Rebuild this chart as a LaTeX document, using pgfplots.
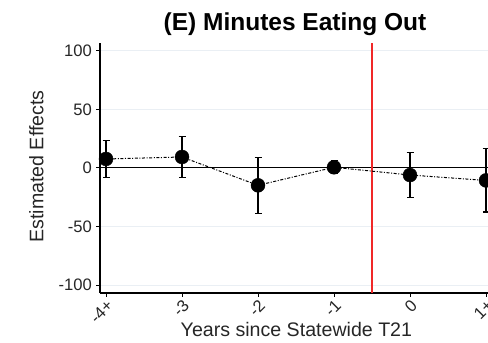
\documentclass[border=0pt]{standalone}
\usepackage{fontspec}
\setmainfont{Liberation Sans}
\usepackage{pgfplots}
\pgfplotsset{compat=1.18}

\definecolor{gridgray}{RGB}{234,239,244}
\definecolor{vline}{RGB}{240,40,40}

\begin{document}
\begin{tikzpicture}[x=1pt,y=1pt]
\begin{axis}[
  at={(100pt,50pt)}, anchor=south west,
  scale only axis,
  width=393.6pt, height=250pt,
  xmin=-0.079, xmax=5.1,
  ymin=-106.8, ymax=106.8,
  axis lines*=left,
  axis line style={black, line width=1.1pt},
  clip=false,
  xtick={0,1,2,3,4,5},
  xticklabels={-4+,-3,-2,-1,0,1+},
  ytick={-100,-50,0,50,100},
  tick align=outside,
  major tick length=4pt,
  tick style={black, line width=1pt},
  /pgf/number format/assume math mode=true,
  ticklabel style={font=\fontsize{16.6}{18}\selectfont, text=black!85},
  xticklabel style={rotate=45, anchor=north east, inner sep=1pt},
  yticklabel style={anchor=east, inner sep=1pt, xshift=-3pt},
  ymajorgrids, grid style={gridgray, line width=1pt},
  title={\textbf{(E) Minutes Eating Out}},
  title style={font=\fontsize{24.5}{28}\selectfont, at={(rel axis cs:0.4954,1)}, anchor=base, yshift=6pt},
  xlabel={Years since Statewide T21},
  xlabel style={font=\fontsize{19.6}{22}\selectfont, at={(rel axis cs:0.499,0)}, anchor=base, yshift=-43.5pt, text=black!85},
  ylabel={Estimated Effects},
  % the label is already turned by 90 degrees, so yshift moves it to the left
  ylabel style={font=\fontsize{19.6}{22}\selectfont, at={(rel axis cs:0,0.506)}, anchor=base, yshift=56.5pt, text=black!85},
]
% horizontal reference at zero and the policy date
\addplot[black, line width=1pt, forget plot] coordinates {(-0.079,0) (5.1,0)};
\addplot[vline, line width=1.3pt, forget plot] coordinates {(3.5,-106.8) (3.5,106.8)};

% connecting line
\addplot[black, line width=1pt, dash pattern=on 3pt off 1.6pt on 1pt off 1.6pt, forget plot]
  coordinates {(0,7.7) (1,9.4) (2,-14.8) (3,0.6) (4,-6) (5,-10.6)};

% estimates with 95% intervals
\addplot[
  only marks, mark=*, mark size=7pt, black,
  error bars/.cd, y dir=both, y explicit,
  error bar style={black, line width=1.1pt},
  error mark options={rotate=90, mark size=3.5pt, line width=1.1pt, black},
] table[x=x, y=y, y error=e] {
x y e
0 7.7 15.6
1 9.4 17.5
2 -14.8 24
3 0.6 5.5
4 -6 19.5
5 -10.6 27
};
\end{axis}
\pgfresetboundingbox
\path[use as bounding box] (0,0) rectangle (488pt,343pt);
\end{tikzpicture}
\end{document}
